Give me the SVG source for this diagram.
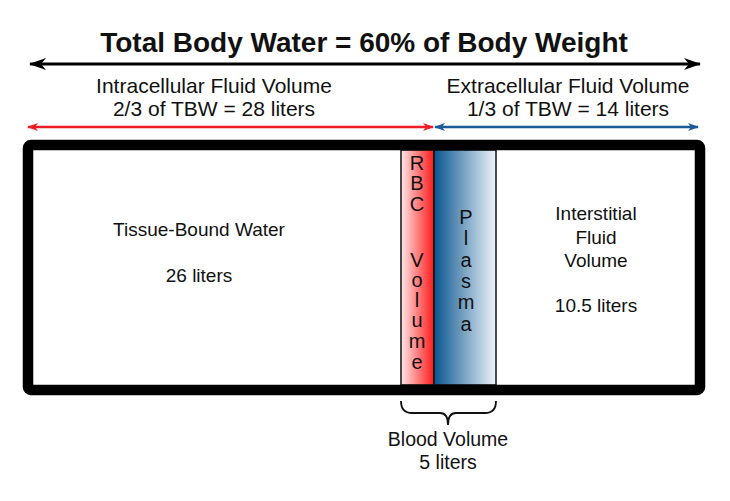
<svg xmlns="http://www.w3.org/2000/svg" width="730" height="501" viewBox="0 0 730 501">
<defs>
<linearGradient id="rbc" x1="0" y1="0" x2="1" y2="0">
<stop offset="0" stop-color="#ffe6e8"/>
<stop offset="1" stop-color="#ff1a1a"/>
</linearGradient>
<linearGradient id="plasma" x1="0" y1="0" x2="1" y2="0">
<stop offset="0" stop-color="#0a5590"/>
<stop offset="1" stop-color="#eef4f8"/>
</linearGradient>
<marker id="ahK" viewBox="0 0 17 12" refX="16" refY="6" markerWidth="17" markerHeight="12" markerUnits="userSpaceOnUse" orient="auto-start-reverse">
<path d="M0,0 L17,6 L0,12 L5,6 Z" fill="#000"/>
</marker>
<marker id="ahR" viewBox="0 0 11 8" refX="10" refY="4" markerWidth="11" markerHeight="8" markerUnits="userSpaceOnUse" orient="auto-start-reverse">
<path d="M0,0 L11,4 L0,8 L3,4 Z" fill="#ee1c25"/>
</marker>
<marker id="ahB" viewBox="0 0 11 8" refX="10" refY="4" markerWidth="11" markerHeight="8" markerUnits="userSpaceOnUse" orient="auto-start-reverse">
<path d="M0,0 L11,4 L0,8 L3,4 Z" fill="#1b5a98"/>
</marker>
</defs>
<style>
text{font-family:"Liberation Sans",Arial,sans-serif;fill:#111;text-anchor:middle}
.t{font-size:28px;font-weight:bold}
.h{font-size:21px}
.b{font-size:19px}
.v{font-size:20px}
.bl{font-size:19.5px}
</style>
<g id="connectors" fill="none">
<line x1="30" y1="64" x2="700" y2="64" stroke="#000" stroke-width="3" marker-start="url(#ahK)" marker-end="url(#ahK)"/>
<line x1="28" y1="127" x2="433" y2="127" stroke="#ee1c25" stroke-width="2.5" marker-start="url(#ahR)" marker-end="url(#ahR)"/>
<line x1="435" y1="127" x2="698" y2="127" stroke="#1b5a98" stroke-width="2.5" marker-start="url(#ahB)" marker-end="url(#ahB)"/>
</g>
<text class="t" x="364" y="52">Total Body Water = 60% of Body Weight</text>
<g id="icf-label">
<text class="h" x="214" y="93">Intracellular Fluid Volume</text>
<text class="h" x="214" y="116">2/3 of TBW = 28 liters</text>
</g>
<g id="ecf-label">
<text class="h" x="568" y="93">Extracellular Fluid Volume</text>
<text class="h" x="568" y="116">1/3 of TBW = 14 liters</text>
</g>
<g id="tissue">
<text class="b" x="199" y="236">Tissue-Bound Water</text>
<text class="b" x="199" y="282">26 liters</text>
</g>
<g id="rbc-col">
<rect x="401" y="150" width="33" height="235" fill="url(#rbc)" stroke="#111" stroke-width="1.5"/>
<text class="v" x="417" y="170">R</text>
<text class="v" x="417" y="190">B</text>
<text class="v" x="417" y="211">C</text>
<text class="v" x="417" y="267">V</text>
<text class="v" x="417" y="287">o</text>
<text class="v" x="417" y="307">l</text>
<text class="v" x="417" y="327">u</text>
<text class="v" x="417" y="348">m</text>
<text class="v" x="417" y="369">e</text>
</g>
<g id="plasma-col">
<rect x="434" y="150" width="62" height="235" fill="url(#plasma)" stroke="#111" stroke-width="1.5"/>
<text class="v" x="466" y="224">P</text>
<text class="v" x="466" y="245">l</text>
<text class="v" x="466" y="267">a</text>
<text class="v" x="466" y="288">s</text>
<text class="v" x="466" y="309">m</text>
<text class="v" x="466" y="331">a</text>
</g>
<g id="interstitial">
<text class="b" x="596" y="220">Interstitial</text>
<text class="b" x="596" y="244">Fluid</text>
<text class="b" x="596" y="267">Volume</text>
<text class="b" x="596" y="312">10.5 liters</text>
</g>
<g id="box">
<rect x="28" y="145" width="672" height="245" rx="3" fill="none" stroke="#000" stroke-width="10.5"/>
</g>
<g id="blood">
<path d="M401,401 Q401,413 412,413 L440,413 Q448,413 448,425 Q448,413 456,413 L485,413 Q496,413 496,401" fill="none" stroke="#111" stroke-width="1.8"/>
<text class="bl" x="448" y="446">Blood Volume</text>
<text class="bl" x="448" y="469">5 liters</text>
</g>
</svg>
